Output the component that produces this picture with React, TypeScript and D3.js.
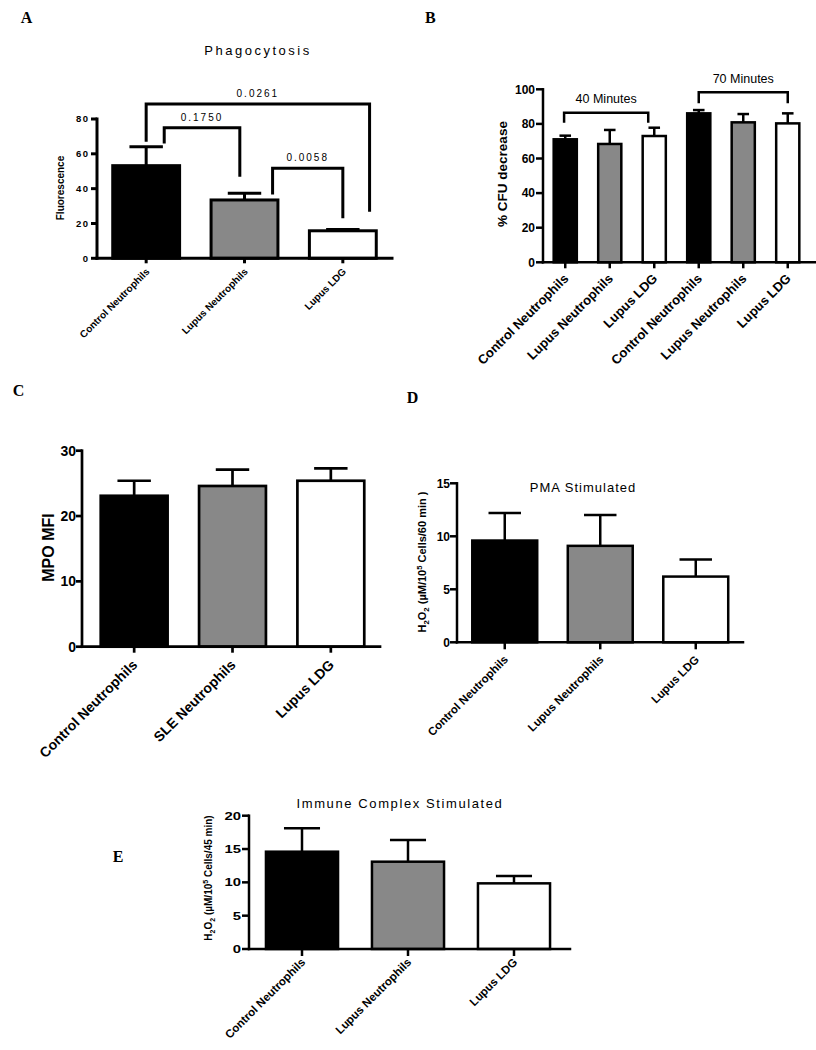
import React from 'react';
import * as d3 from 'd3';

// ---------- DATA ----------
const catsA = ['Control Neutrophils', 'Lupus Neutrophils', 'Lupus LDG'];
const meanA = [53.2, 33.5, 15.8];
const errA = [10.9, 3.8, 0.8];
const ticksA = [0, 20, 40, 60, 80];
const bracketsA = [
  { label: '0.0261', from: 0, fromOff: 0, to: 2, toOff: 0.4, y: 88.6, fromEnd: 66.9, toEnd: 26.8 },
  { label: '0.1750', from: 0, fromOff: 0.27, to: 1, toOff: -0.07, y: 75.0, fromEnd: 66.0, toEnd: 46.8 },
  { label: '0.0058', from: 1, fromOff: 0.42, to: 2, toOff: 0, y: 51.7, fromEnd: 36.7, toEnd: 23.0 },
];

const catsB = ['Control Neutrophils', 'Lupus Neutrophils', 'Lupus LDG', 'Control Neutrophils', 'Lupus Neutrophils', 'Lupus LDG'];
const meanB = [71.1, 68.4, 73.0, 86.1, 80.9, 80.3];
const errB = [2.1, 8.1, 4.8, 1.9, 4.8, 5.8];
const ticksB = [0, 20, 40, 60, 80, 100];
const bracketsB = [
  { label: '40 Minutes', from: 0, fromOff: -0.05, to: 2, toOff: -0.26, y: 86.5, fromEnd: 80.7, toEnd: 80.7 },
  { label: '70 Minutes', from: 3, fromOff: 0, to: 5, toOff: 0, y: 98.3, fromEnd: 91.9, toEnd: 91.9 },
];

const catsC = ['Control Neutrophils', 'SLE Neutrophils', 'Lupus LDG'];
const meanC = [23.1, 24.6, 25.4];
const errC = [2.3, 2.5, 1.9];
const ticksC = [0, 10, 20, 30];

const catsD = ['Control Neutrophils', 'Lupus Neutrophils', 'Lupus LDG'];
const meanD = [9.6, 9.1, 6.2];
const errD = [2.6, 2.9, 1.6];
const ticksD = [0, 5, 10, 15];

const catsE = ['Control Neutrophils', 'Lupus Neutrophils', 'Lupus LDG'];
const meanE = [14.6, 13.1, 9.85];
const errE = [3.5, 3.25, 1.1];
const ticksE = [0, 5, 10, 15, 20];

const fills3 = ['#000000', '#888888', '#ffffff'];

const SANS = '"Liberation Sans", Arial, Helvetica, sans-serif';
const SERIF = '"Liberation Serif", "Times New Roman", serif';

type Bracket = { label: string; from: number; fromOff: number; to: number; toOff: number; y: number; fromEnd: number; toEnd: number };

type Cfg = {
  cats: string[]; means: number[]; errs: number[]; fills: string[]; ticks: number[];
  ax0: number; ax1: number; band: [number, number]; pad: number;
  y0: number; yTop: number; yMax: number; sw: number; tickLen: number; xTickLen: number;
  tickFont: number; tickLs?: number; tickGap: number; tickScaleX?: number;
  xFont: number; xWeight: string; xdx: number; xdy: number;
  yTitle: React.ReactNode; yTitlePos: [number, number]; yTitleFont: number; yTitleWeight: string;
  title?: string; titlePos?: [number, number]; titleFont?: number; titleLs?: number;
  brackets?: Bracket[]; brFont?: number; brLs?: number; brGap?: number;
  letter: string; letterPos: [number, number];
};

function Panel({ c }: { c: Cfg }) {
  const x = d3.scaleBand<string>()
    .domain(c.cats.map((_, i) => String(i)))
    .range(c.band)
    .paddingInner(c.pad)
    .paddingOuter(c.pad / 2);
  const y = d3.scaleLinear().domain([0, c.yMax]).range([c.y0, c.yTop]);
  const bw = x.bandwidth();
  const cx = (i: number) => (x(String(i)) as number) + bw / 2;
  const sw = c.sw;
  return (
    <g>
      <text x={c.letterPos[0]} y={c.letterPos[1]} fontFamily={SERIF} fontWeight="bold" fontSize={16}>{c.letter}</text>
      {c.title && c.titlePos && (
        <text x={c.titlePos[0]} y={c.titlePos[1]} textAnchor="middle" fontFamily={SANS} fontSize={c.titleFont}
          style={{ letterSpacing: `${c.titleLs || 0}px` }}>{c.title}</text>
      )}
      {/* bars */}
      {c.means.map((m, i) => (
        <g key={'b' + i}>
          <line x1={cx(i)} x2={cx(i)} y1={y(m)} y2={y(m + c.errs[i])} stroke="#000" strokeWidth={sw} />
          <line x1={cx(i) - bw / 4} x2={cx(i) + bw / 4} y1={y(m + c.errs[i])} y2={y(m + c.errs[i])} stroke="#000" strokeWidth={sw} />
          <rect x={x(String(i))} y={y(m)} width={bw} height={c.y0 - y(m)} fill={c.fills[i]} stroke="#000" strokeWidth={sw} />
        </g>
      ))}
      {/* axes */}
      <line x1={c.ax0} x2={c.ax0} y1={c.y0} y2={y(c.yMax)} stroke="#000" strokeWidth={sw} strokeLinecap="square" />
      <line x1={c.ax0} x2={c.ax1} y1={c.y0} y2={c.y0} stroke="#000" strokeWidth={sw} strokeLinecap="square" />
      {c.ticks.map(t => (
        <g key={'t' + t}>
          <line x1={c.ax0 - c.tickLen} x2={c.ax0} y1={y(t)} y2={y(t)} stroke="#000" strokeWidth={sw} />
          <text
            transform={`translate(${c.ax0 - c.tickLen - c.tickGap + (c.tickLs || 0)},${y(t)}) scale(${c.tickScaleX || 1},1)`}
            dy="0.36em" textAnchor="end" fontFamily={SANS} fontWeight="bold" fontSize={c.tickFont}
            style={{ letterSpacing: `${c.tickLs || 0}px` }}>{t}</text>
        </g>
      ))}
      {c.cats.map((name, i) => (
        <g key={'x' + i}>
          <line x1={cx(i)} x2={cx(i)} y1={c.y0} y2={c.y0 + c.xTickLen} stroke="#000" strokeWidth={sw} />
          <text transform={`translate(${cx(i) + c.xdx},${c.y0 + c.xdy}) rotate(-45)`} textAnchor="end"
            fontFamily={SANS} fontWeight={c.xWeight} fontSize={c.xFont}>{name}</text>
        </g>
      ))}
      <text transform={`translate(${c.yTitlePos[0]},${c.yTitlePos[1]}) rotate(-90)`} textAnchor="middle"
        fontFamily={SANS} fontWeight={c.yTitleWeight} fontSize={c.yTitleFont}>{c.yTitle}</text>
      {/* brackets */}
      {(c.brackets || []).map((b, k) => {
        const xa = cx(b.from) + b.fromOff * bw;
        const xb = cx(b.to) + b.toOff * bw;
        const path = `M${xa},${y(b.fromEnd)}V${y(b.y)}H${xb}V${y(b.toEnd)}`;
        return (
          <g key={'br' + k}>
            <path d={path} fill="none" stroke="#000" strokeWidth={sw} strokeLinejoin="miter" />
            <text x={(xa + xb) / 2} y={y(b.y) - (c.brGap || 6)} textAnchor="middle" fontFamily={SANS}
              fontSize={c.brFont} style={{ letterSpacing: `${c.brLs || 0}px` }}>{b.label}</text>
          </g>
        );
      })}
    </g>
  );
}

const h2o2 = (rest: string, fs: number) => (
  <>
    H<tspan dy={fs * 0.3} fontSize={fs * 0.7}>2</tspan>
    <tspan dy={-fs * 0.3}>O</tspan>
    <tspan dy={fs * 0.3} fontSize={fs * 0.7}>2</tspan>
    <tspan dy={-fs * 0.3}> (µM/10</tspan>
    <tspan dy={-fs * 0.4} fontSize={fs * 0.7}>5</tspan>
    <tspan dy={fs * 0.4}>{rest}</tspan>
  </>
);

const cfgA: Cfg = {
  cats: catsA, means: meanA, errs: errA, fills: fills3, ticks: ticksA,
  ax0: 97, ax1: 392, band: [97, 392], pad: 0.32,
  y0: 258.3, yTop: 119, yMax: 80, sw: 3, tickLen: 6, xTickLen: 5,
  tickFont: 9.5, tickLs: 1.5, tickGap: 3,
  xFont: 10, xWeight: 'bold', xdx: 4, xdy: 14,
  yTitle: 'Fluorescence', yTitlePos: [64, 188], yTitleFont: 10, yTitleWeight: 'bold',
  title: 'Phagocytosis', titlePos: [258, 55], titleFont: 13, titleLs: 2.5,
  brackets: bracketsA, brFont: 10, brLs: 2, brGap: 7,
  letter: 'A', letterPos: [20.7, 23.3],
};

const cfgB: Cfg = {
  cats: catsB, means: meanB, errs: errB, fills: [...fills3, ...fills3], ticks: ticksB,
  ax0: 543, ax1: 816, band: [543, 810], pad: 0.48,
  y0: 262.3, yTop: 89.3, yMax: 100, sw: 2.5, tickLen: 7, xTickLen: 6,
  tickFont: 12, tickGap: 1,
  xFont: 13, xWeight: 'bold', xdx: 4, xdy: 17,
  yTitle: '% CFU decrease', yTitlePos: [507, 174], yTitleFont: 13.5, yTitleWeight: 'bold',
  brackets: bracketsB, brFont: 12.5, brLs: 0, brGap: 9.5,
  letter: 'B', letterPos: [425, 22.7],
};

const cfgC: Cfg = {
  cats: catsC, means: meanC, errs: errC, fills: fills3, ticks: ticksC,
  ax0: 82, ax1: 380, band: [85, 380], pad: 0.32,
  y0: 646.7, yTop: 450.7, yMax: 30, sw: 2.7, tickLen: 6, xTickLen: 6,
  tickFont: 14, tickGap: 0,
  xFont: 14, xWeight: 'bold', xdx: 4, xdy: 19,
  yTitle: 'MPO MFI', yTitlePos: [54, 547.5], yTitleFont: 16, yTitleWeight: 'bold',
  letter: 'C', letterPos: [12.7, 396],
};

const cfgD: Cfg = {
  cats: catsD, means: meanD, errs: errD, fills: fills3, ticks: ticksD,
  ax0: 457, ax1: 743, band: [457, 743.5], pad: 0.32,
  y0: 642.3, yTop: 483.3, yMax: 15, sw: 2.5, tickLen: 7, xTickLen: 7,
  tickFont: 12, tickGap: 0,
  xFont: 11.5, xWeight: 'bold', xdx: 4, xdy: 18,
  yTitle: h2o2(' Cells/60 min )', 11), yTitlePos: [426, 562], yTitleFont: 11, yTitleWeight: 'bold',
  title: 'PMA Stimulated', titlePos: [583, 492], titleFont: 13, titleLs: 1,
  letter: 'D', letterPos: [406.7, 403.3],
};

const cfgE: Cfg = {
  cats: catsE, means: meanE, errs: errE, fills: fills3, ticks: ticksE,
  ax0: 249, ax1: 570, band: [249, 567], pad: 0.32,
  y0: 949, yTop: 815.7, yMax: 20, sw: 2.5, tickLen: 7, xTickLen: 7,
  tickFont: 11, tickGap: 1, tickScaleX: 1.35,
  xFont: 11.5, xWeight: 'bold', xdx: 4, xdy: 14,
  yTitle: h2o2(' Cells/45 min)', 10), yTitlePos: [212, 878], yTitleFont: 10, yTitleWeight: 'bold',
  title: 'Immune Complex Stimulated', titlePos: [400, 808], titleFont: 13, titleLs: 1.6,
  letter: 'E', letterPos: [112.7, 861.7],
};

export default function App() {
  return (
    <svg width={816} height={1050} style={{ position: 'absolute', left: 0, top: 0, background: '#fff' }}>
      <rect x={0} y={0} width={816} height={1050} fill="#fff" />
      <Panel c={cfgA} />
      <Panel c={cfgB} />
      <Panel c={cfgC} />
      <Panel c={cfgD} />
      <Panel c={cfgE} />
    </svg>
  );
}
